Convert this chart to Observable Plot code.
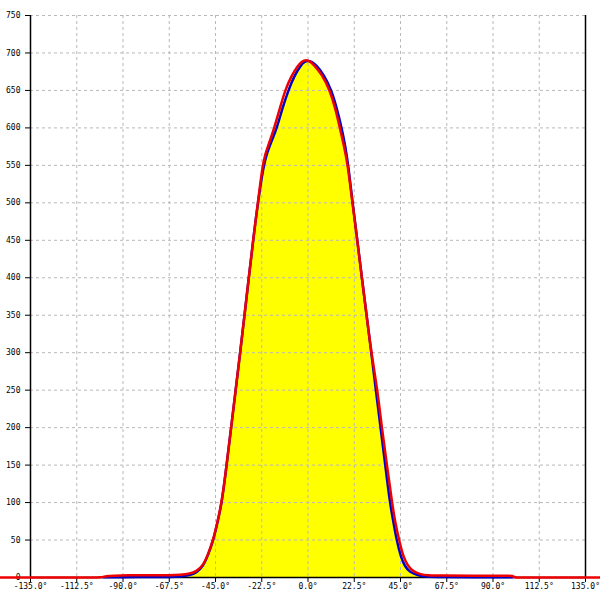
<!DOCTYPE html>
<html><head><meta charset="utf-8">
<script src="https://cdn.jsdelivr.net/npm/d3@7"></script>
<script src="https://cdn.jsdelivr.net/npm/@observablehq/plot@0.6"></script>
<style>body{margin:0;background:#fff} svg{display:block}</style>
</head><body><div id="chart"></div>
<script>
const xDomain = [-135, 135];
const yDomain = [0, 750];
const xTicks = [-135, -112.5, -90, -67.5, -45, -22.5, 0, 22.5, 45, 67.5, 90, 112.5, 135];
const yTicks = [0, 50, 100, 150, 200, 250, 300, 350, 400, 450, 500, 550, 600, 650, 700, 750];

const blueAngle = [-99.5,-90,-76.7,-67,-62.2,-57.3,-54.4,-51,-48.6,-46,-43.9,-41.9,-39.6,-37.4,-35.2,-33,-30.9,-28.8,-26.7,-24.4,-21.6,-20.1,-18.1,-15.1,-12.6,-9.6,-6.6,-3.6,-1.9,0,1.9,3.9,7.5,11.5,14.1,16.4,18.2,19.6,21.7,24,26.2,28.5,30.8,33,35.3,37.6,39.8,41.5,43.1,45.2,47.1,49.5,53.4,56.8,64.1,80,99.5];
const blueValue = [0.5,0.5,0.5,0.8,1.2,3,6,15,30,50,75,100,150,200,250,300,350,400,450,500,550,565,580,600,625,650,670,683,688,690,688,684,672,650,625,600,575,550,500,450,400,350,300,250,200,150,100,75,50,27,15,7,3,1.2,0.5,0.5,0.5];

const redAngle = [-150,-120,-104,-101,-98,-95.5,-85,-76.7,-67,-62.2,-57.3,-54.4,-51,-48.6,-46,-43.9,-41.9,-39.6,-37.4,-35.2,-33,-30.9,-28.8,-26.7,-24.4,-22.1,-20.8,-18.9,-16.4,-13.8,-11.2,-8,-4.9,-2.9,-1,1,2.9,6.6,10.7,13.4,15.5,17.6,19.4,21.6,24,26.2,28.5,30.8,33.8,35.9,38.4,40.9,42.3,44.3,46.4,48.7,51.2,54.9,58.3,64.1,80,97,99.5,100.5,103,120,151];
const redValue = [0,0,0,0,2,2.5,3,3,3,3.5,5,8,16,31,51,76,101,150,200,250,300,350,400,450,500,550,565,580,600,625,650,670,683,689,691,689,684,672,650,625,600,575,550,500,450,400,350,300,250,200,150,100,75,50,27,15,8,4,3,2.5,2.5,2.5,2.5,0,0,0,0];

const blue = blueAngle.map((a, i) => ({a, v: blueValue[i]}));
const red = redAngle.map((a, i) => ({a, v: redValue[i]}));

const chart = Plot.plot({
  width: 600, height: 600,
  marginLeft: 30, marginRight: 15, marginTop: 15, marginBottom: 23,
  style: {fontFamily: "DejaVu Sans Mono", fontSize: "8px", background: "#fff", color: "#000"},
  x: {domain: xDomain, axis: null},
  y: {domain: yDomain, axis: null},
  marks: [
    Plot.areaY(blue, {x: "a", y: "v", fill: "#ffff00", curve: "basis"}),
    Plot.gridX(xTicks, {stroke: "#b8b8b8", strokeOpacity: 1, strokeDasharray: "3,3"}),
    Plot.gridY(yTicks, {stroke: "#b8b8b8", strokeOpacity: 1, strokeDasharray: "3,3"}),
    Plot.ruleX(xDomain, {stroke: "#000", strokeWidth: 1.5}),
    Plot.ruleY([yDomain[0]], {stroke: "#000", strokeWidth: 1.5}),
    Plot.axisX(xTicks, {label: null, tickSize: 5, tickPadding: 1, tickFormat: d => d.toFixed(1) + "°", stroke: "#000"}),
    Plot.axisY(yTicks, {label: null, tickSize: 5, tickPadding: 5, tickFormat: d => String(d), stroke: "#000"}),
    Plot.lineY(blue, {x: "a", y: "v", stroke: "#0000c8", strokeWidth: 2.5, curve: "basis"}),
    Plot.lineY(red, {x: "a", y: "v", stroke: "#ee0000", strokeWidth: 2.5, curve: "basis"})
  ]
});
document.getElementById("chart").appendChild(chart);
</script>
</body></html>
